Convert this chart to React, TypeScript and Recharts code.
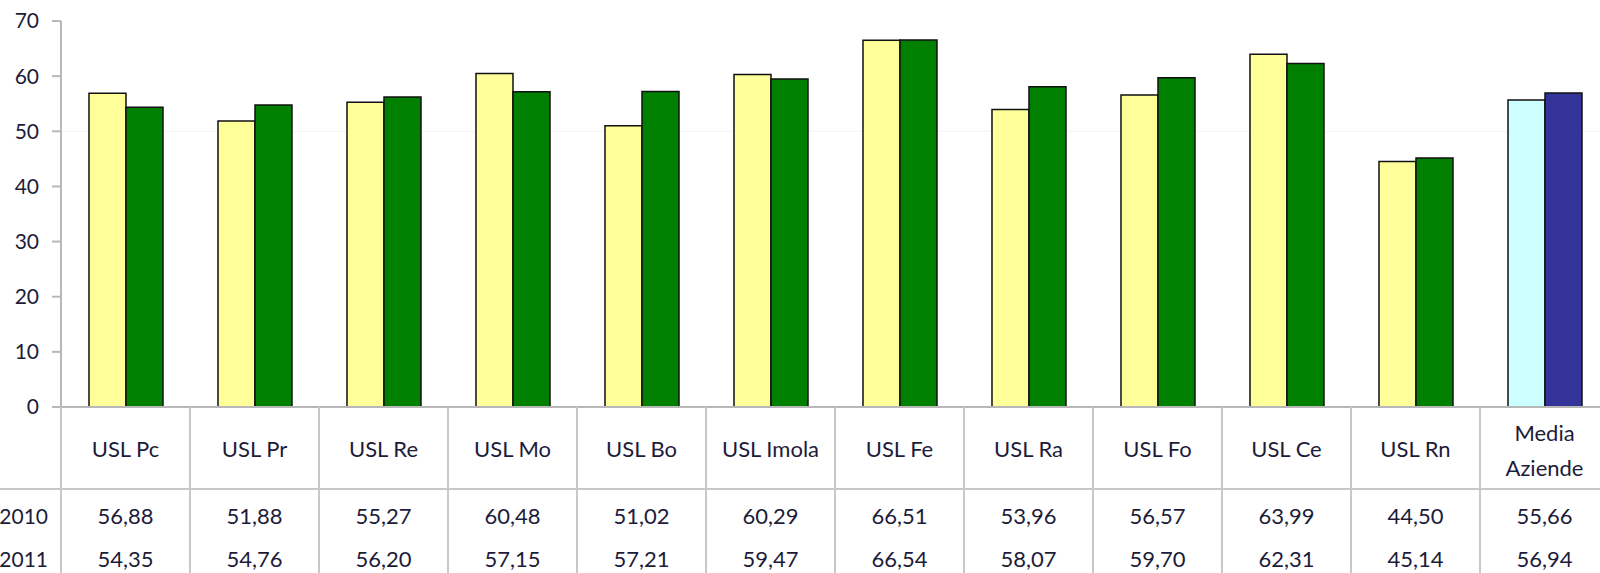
import React from 'react';
import { BarChart, Bar, XAxis, YAxis, CartesianGrid, Cell } from 'recharts';

const categories = [
  'USL Pc', 'USL Pr', 'USL Re', 'USL Mo', 'USL Bo', 'USL Imola',
  'USL Fe', 'USL Ra', 'USL Fo', 'USL Ce', 'USL Rn', 'Media Aziende',
];
const seriesYears = ['2010', '2011'];
const values2010 = [56.88, 51.88, 55.27, 60.48, 51.02, 60.29, 66.51, 53.96, 56.57, 63.99, 44.5, 55.66];
const values2011 = [54.35, 54.76, 56.2, 57.15, 57.21, 59.47, 66.54, 58.07, 59.7, 62.31, 45.14, 56.94];
const yTicks = [0, 10, 20, 30, 40, 50, 60, 70];

const data = categories.map((name, i) => ({
  name,
  y2010: values2010[i],
  y2011: values2011[i],
}));

const CHART_W = 1612;
const CHART_H = 573;
const Y_W = 61;
const MARGIN = { top: 21, right: 3, left: 0, bottom: 0 };
const BAND = (CHART_W - MARGIN.left - MARGIN.right - Y_W) / categories.length;

const textColor = '#1c1c3a';
const lineColor = '#c8c8c8';
const font = 'Lato, "Open Sans", sans-serif';

const isMedia = (i: number) => i === categories.length - 1;
const color2010 = (i: number) => (isMedia(i) ? '#ccffff' : '#ffff99');
const color2011 = (i: number) => (isMedia(i) ? '#333399' : '#008000');

const fmt = (v: number) => v.toFixed(2).replace('.', ',');

// category cell + data table rows under the axis
const TableTick = (props: any) => {
  const { x, y, payload, index } = props;
  const name: string = payload.value;
  const left = x - BAND / 2;
  const right = x + BAND / 2;
  const words = name === 'Media Aziende' ? ['Media', 'Aziende'] : [name];
  return (
    <g fontFamily={font} fill={textColor}>
      <line x1={left} y1={y} x2={left} y2={CHART_H} stroke={lineColor} strokeWidth={2} />
      {index === categories.length - 1 && (
        <line x1={right} y1={y} x2={right} y2={CHART_H} stroke={lineColor} strokeWidth={2} />
      )}
      {index === 0 && (
        <g>
          <line x1={-10} y1={y + 82} x2={CHART_W} y2={y + 82} stroke={lineColor} strokeWidth={2} />
          {seriesYears.map((yr, r) => (
            <text key={yr} x={left - 13} y={y + 108 + r * 43} textAnchor="end" dominantBaseline="central" fontSize={21}>
              {yr}
            </text>
          ))}
        </g>
      )}
      {words.map((w, k) => (
        <text
          key={w}
          x={x}
          y={words.length === 1 ? y + 41 : y + 25 + k * 35}
          textAnchor="middle"
          dominantBaseline="central"
          fontSize={22}
        >
          {w}
        </text>
      ))}
      <text x={x} y={y + 108} textAnchor="middle" dominantBaseline="central" fontSize={22}>
        {fmt(values2010[index])}
      </text>
      <text x={x} y={y + 151} textAnchor="middle" dominantBaseline="central" fontSize={22}>
        {fmt(values2011[index])}
      </text>
    </g>
  );
};

const App: React.FC = () => {
  return (
    <div style={{ position: 'absolute', left: 0, top: 0, width: 1600, height: 573, overflow: 'hidden', background: '#fff' }}>
      <BarChart
        width={CHART_W}
        height={CHART_H}
        data={data}
        margin={MARGIN}
        barCategoryGap="21.7%"
        barGap={0}
      >
        <CartesianGrid vertical={false} horizontalValues={[50]} stroke="#f2f2f2" />
        <YAxis
          width={Y_W}
          domain={[0, 70]}
          ticks={yTicks}
          interval={0}
          tickSize={9}
          tickMargin={13}
          stroke="#b8b8b8"
          strokeWidth={2}
          tick={{ fill: textColor, fontSize: 21, fontFamily: font }}
        />
        <XAxis
          dataKey="name"
          height={166}
          interval={0}
          tickSize={0}
          tickMargin={0}
          tickLine={false}
          stroke="#b8b8b8"
          strokeWidth={2}
          tick={<TableTick />}
        />
        <Bar dataKey="y2010" isAnimationActive={false} stroke="#111" strokeWidth={1.5}>
          {data.map((_, i) => (
            <Cell key={i} fill={color2010(i)} />
          ))}
        </Bar>
        <Bar dataKey="y2011" isAnimationActive={false} stroke="#111" strokeWidth={1.5}>
          {data.map((_, i) => (
            <Cell key={i} fill={color2011(i)} />
          ))}
        </Bar>
      </BarChart>
    </div>
  );
};

export default App;
